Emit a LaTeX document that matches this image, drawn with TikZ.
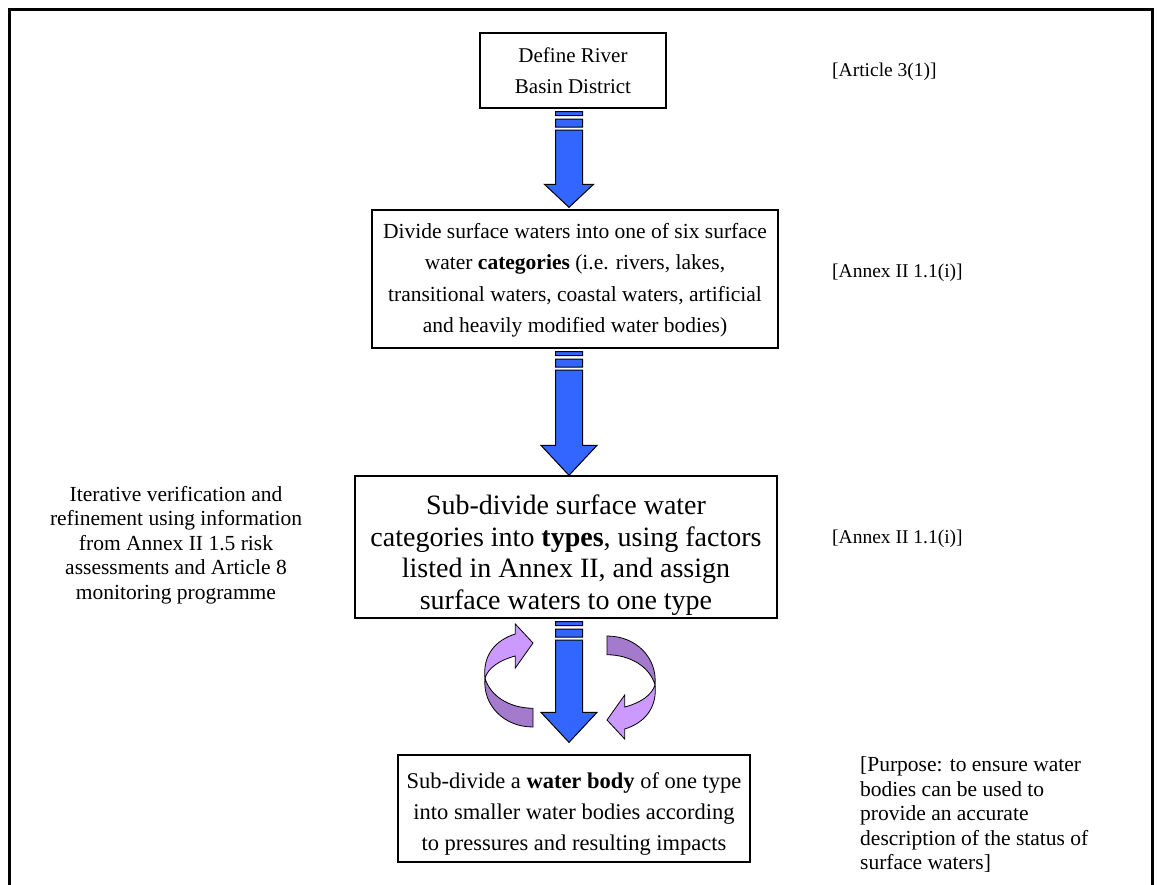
\documentclass[tikz,border=0pt]{standalone}
\usepackage{fontspec}
\setmainfont{Liberation Serif}
\usetikzlibrary{calc}
\definecolor{arrowblue}{RGB}{51,102,255}
\definecolor{lightpurple}{RGB}{204,153,255}
\definecolor{darkpurple}{RGB}{163,122,204}
\tikzset{
 box/.style={draw=black, line width=1.3pt, fill=white, align=center, inner sep=0pt},
 note/.style={inner sep=0pt, font=\fontsize{21.5}{24.5}\selectfont},
 smallnote/.style={inner sep=0pt, font=\fontsize{19.5}{24.5}\selectfont},
 blockstyle/.style={draw=black, line width=1pt, fill=arrowblue, line join=miter},
 ribbonlight/.style={draw=black, line width=0.8pt, fill=lightpurple},
 ribbondark/.style={draw=black, line width=0.8pt, fill=darkpurple},
}
% #1 raise amount, #2 lines
\newcommand\boxlines[2]{\raisebox{#1}[\height][\depth]{\begin{tabular}{@{}c@{}}#2\end{tabular}}}
% #1 start, #2 end, #3 head half width, #4 head length, #5 gap before end
\newcommand\blockarrow[5]{%
 \draw[blockstyle] let \p1=(#1), \p2=(#2) in
  (\x1-13.5pt,\y1-3pt) rectangle (\x1+13.5pt,\y1-7pt)
  (\x1-13.5pt,\y1-10.5pt) rectangle (\x1+13.5pt,\y1-18.5pt)
  (\x1-13.5pt,\y1-21.5pt) -- (\x1+13.5pt,\y1-21.5pt) -- (\x1+13.5pt,\y2+#5+#4) -- (\x1+#3,\y2+#5+#4)
  -- (\x1,\y2+#5) -- (\x1-#3,\y2+#5+#4) -- (\x1-13.5pt,\y2+#5+#4) -- cycle;
}
\begin{document}
\begin{tikzpicture}[x=1pt,y=-1pt]
\useasboundingbox (0,0) rectangle (1157,885);
\draw[line width=3pt] (9.5,885) -- (9.5,10) -- (1152.5,10) -- (1152.5,885);
\coordinate (axis) at (569,0);

\node[box, minimum width=186pt, minimum height=75pt, font=\fontsize{21}{31}\selectfont] (b1) at (573,70.5)
  {\boxlines{-1pt}{Define River\\Basin District}};
\node[box, minimum width=406pt, minimum height=138pt, font=\fontsize{21.5}{31.5}\selectfont] (b2) at (575,279)
  {\boxlines{-0.3pt}{Divide surface waters into one of six surface\\water \textbf{categories} (i.e. rivers, lakes,\\transitional waters, coastal waters, artificial\\and heavily modified water bodies)}};
\node[box, minimum width=422pt, minimum height=142pt, font=\fontsize{28}{31.5}\selectfont] (b3) at (566,547)
  {\boxlines{-8.5pt}{Sub-divide surface water\\categories into \textbf{types}, using factors\\listed in Annex II, and assign\\surface waters to one type}};
\node[box, minimum width=352pt, minimum height=107pt, font=\fontsize{22.5}{30.7}\selectfont] (b4) at (574,808.5)
  {\boxlines{-4.7pt}{Sub-divide a \textbf{water body} of one type\\into smaller water bodies according\\to pressures and resulting impacts}};

\node[smallnote, anchor=west] (n1) at (832,72) {[Article 3(1)]};
\node[smallnote, anchor=west] (n2) at (832,273) {[Annex II 1.1(i)]};
\node[smallnote, anchor=west] (n3) at (832,539) {[Annex II 1.1(i)]};
\node[note, anchor=north west, align=left] (n4) at (860,756.5)
  {[Purpose: to ensure water\\bodies can be used to\\provide an accurate\\description of the status of\\surface waters]};
\node[note, align=center] (n5) at (176,545)
  {Iterative verification and\\refinement using information\\from Annex II 1.5 risk\\assessments and Article 8\\monitoring programme};

\blockarrow{b1.south -| axis}{b2.north -| axis}{24.5pt}{23pt}{2pt}
\blockarrow{b2.south -| axis}{b3.north -| axis}{28pt}{30pt}{0pt}
\blockarrow{b3.south -| axis}{b4.north -| axis}{28pt}{30pt}{12pt}

% curved ribbon arrows
\foreach \ang in {0,180}{
\begin{scope}[rotate around={\ang:(570,681.5)}]
\draw[ribbondark] (485,678.3) .. controls (482.5,705) and (503.7,727) .. (533,727)
  -- (533,708.3) .. controls (509,708) and (490.4,696) .. (485,678.3) -- cycle;
\draw[ribbonlight] (485,678.3) .. controls (482.5,655) and (495.7,640) .. (515.3,634)
  -- (515.3,624) -- (533,643) -- (515.3,668) -- (515.3,656)
  .. controls (499.7,660) and (487.8,668) .. (485,678.3) -- cycle;
\end{scope}
}
\end{tikzpicture}
\end{document}
